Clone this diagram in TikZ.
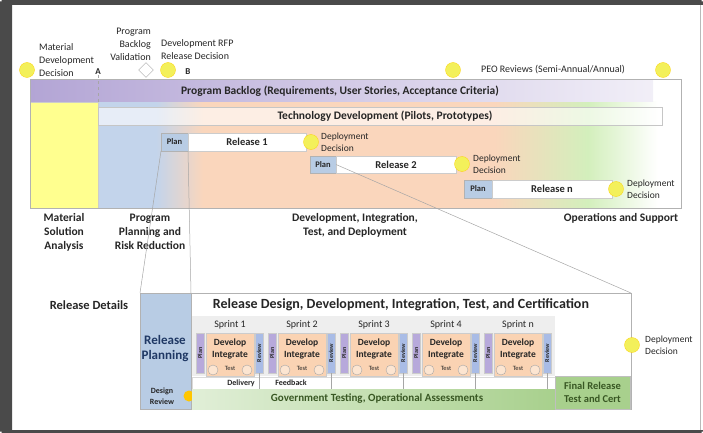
\documentclass[tikz,border=0pt]{standalone}
\usepackage{fontspec}
\setmainfont{Carlito}
\usetikzlibrary{positioning,shapes.geometric}
\definecolor{framegray}{HTML}{4A4A4A}
\definecolor{msyellow}{HTML}{F3F05A}
\definecolor{msayellow}{HTML}{FFFF8F}
\definecolor{planblue}{HTML}{B8CCE4}
\definecolor{backlogpurple}{HTML}{B3A5D5}
\definecolor{softblue}{HTML}{C3D4EB}
\definecolor{peach}{HTML}{FAD6BC}
\definecolor{softgreen}{HTML}{D3EFBC}
\definecolor{sprintorange}{HTML}{FAD3B3}
\definecolor{sprintpurple}{HTML}{B7A9DB}
\definecolor{sprintblue}{HTML}{A9BCE6}
\definecolor{govgreen}{HTML}{A8D08D}
\definecolor{textdark}{HTML}{262626}
\definecolor{rpblue}{HTML}{1F3864}
\definecolor{darkgreen}{HTML}{385723}
\pgfdeclarehorizontalshading{phasebg}{100bp}{color(0bp)=(softblue); color(25bp)=(softblue); color(30bp)=(softblue); color(34bp)=(peach); color(59bp)=(peach); color(67bp)=(softgreen); color(73bp)=(white); color(100bp)=(white)}
\tikzset{
  milestone/.style={circle, fill=msyellow, draw=yellow!70!orange, line width=0.3pt, inner sep=0pt, minimum size=15pt},
  valdiamond/.style={diamond, fill=white, draw=gray!70, inner sep=0pt, minimum size=15pt},
  mslabel/.style={font=\bfseries\fontsize{9}{10}\selectfont, text=textdark, inner sep=0pt},
  smalltxt/.style={font=\fontsize{10}{13}\selectfont, text=textdark, inner sep=0pt},
  deploytxt/.style={font=\fontsize{9.5}{12}\selectfont, text=textdark, inner sep=0pt, align=left, anchor=west},
  box/.style={anchor=north west, inner sep=0pt, outer sep=0pt},
  bartitle/.style={font=\bfseries\fontsize{11.5}{13}\selectfont, text=textdark, inner sep=0pt},
  phase/.style={font=\bfseries\fontsize{11.5}{14}\selectfont, text=textdark, align=center, inner sep=0pt},
  planbox/.style={box, fill=planblue, draw=gray!60, font=\bfseries\fontsize{8.5}{9}\selectfont, text=textdark},
  relbox/.style={box, fill=white, draw=gray!40, font=\bfseries\fontsize{10.5}{11}\selectfont, text=textdark},
  sprinthead/.style={font=\fontsize{10}{11}\selectfont, text=textdark, inner sep=0pt},
  sprintbar/.style={box, minimum width=8pt, minimum height=40pt, draw=gray!40, font=\bfseries\fontsize{6}{6}\selectfont, text=textdark},
  sprintbox/.style={box, minimum width=48pt, minimum height=43pt, fill=sprintorange, draw=gray!40},
  develop/.style={font=\bfseries\fontsize{9.5}{12}\selectfont, text=textdark, align=center, inner sep=0pt},
  cycicon/.style={circle, draw=gray!70, fill=sprintorange!60!white, inner sep=0pt, minimum size=10pt},
  testtxt/.style={font=\fontsize{6.5}{7}\selectfont, text=textdark, inner sep=0pt},
  zoomline/.style={draw=gray!70, line width=0.5pt},
}

\begin{document}
\begin{tikzpicture}[x=1pt,y=-1pt]
% frame
\fill[framegray, even odd rule] (0,0) rectangle (703,433) (12,5) rectangle (703,430);
\fill[white] (0,0) rectangle (1.5,1.5) (701.5,0) rectangle (703,1.5) (0,431.5) rectangle (1.5,433) (701.5,431.5) rectangle (703,433);
\draw[gray!55] (700,5) -- (700,430);
\useasboundingbox (0,0) rectangle (703,433);

% milestones along the top
\node[milestone] (mdd) at (27,70) {};
\node[smalltxt, align=left, anchor=west] (mddtxt) at (39,60) {Material\\Development\\Decision};
\node[mslabel] (msA) at (98,72) {A};
\node[smalltxt, align=right, anchor=east] (pbvtxt) at (151,44) {Program\\Backlog\\Validation};
\node[valdiamond] (pbv) at (146,70) {};
\node[milestone] (rfp) at (168,70) {};
\node[smalltxt, align=left, anchor=west] (rfptxt) at (161,50) {Development RFP\\Release Decision};
\node[mslabel] (msB) at (188,72) {B};
\node[milestone] (peo1) at (453,70) {};
\node[smalltxt, anchor=west] (peotxt) at (481,70) {PEO Reviews (Semi-Annual/Annual)};
\node[milestone] (peo2) at (663,70) {};

% phases
\shade[shading=phasebg] (98,102) rectangle (681,208);
\node[box, fill=msayellow, draw=gray!40, minimum width=68pt, minimum height=106pt] (msabox) at (30,102) {};
\node[box, left color=backlogpurple, right color=backlogpurple!18, minimum width=623pt, minimum height=22pt] (backlog) at (30,80) {};
\node[bartitle] (backlogtxt) at (340,91) {Program Backlog (Requirements, User Stories, Acceptance Criteria)};
\node[box, fill=white, fill opacity=0.6, draw=gray!45, minimum width=564pt, minimum height=18pt] (techdev) at (98,107) {};
\node[bartitle] (techdevtxt) at (385,116) {Technology Development (Pilots, Prototypes)};
\node[box, draw=gray!60, minimum width=651pt, minimum height=129pt] (main) at (30,79) {};
\draw[dashed, gray!70] (msA.south) -- (msabox.north east);

% releases
\node[planbox, minimum width=27pt, minimum height=18pt] (plan1) at (161,133) {Plan};
\node[relbox, minimum width=118pt, minimum height=18pt, anchor=west] (rel1) at (plan1.east) {Release 1};
\node[milestone] (dep1) at (311,142) {};
\node[deploytxt] (dep1txt) at (321,142) {Deployment\\Decision};
\node[planbox, minimum width=26pt, minimum height=17pt] (plan2) at (310,156) {Plan};
\node[relbox, minimum width=120pt, minimum height=17pt, anchor=west] (rel2) at (plan2.east) {Release 2};
\node[milestone] (dep2) at (462,164) {};
\node[deploytxt] (dep2txt) at (473,164) {Deployment\\Decision};
\node[planbox, minimum width=28pt, minimum height=18pt] (plan3) at (464,180) {Plan};
\node[relbox, minimum width=120pt, minimum height=18pt, anchor=west] (reln) at (plan3.east) {Release n};
\node[milestone] (depn) at (616,189) {};
\node[deploytxt] (depntxt) at (627,189) {Deployment\\Decision};

\node[phase] (msa) at (64,232) {Material\\Solution\\Analysis};
\node[phase] (pprr) at (150,232) {Program\\Planning and\\Risk Reduction};
\node[phase] (ditd) at (355,225) {Development, Integration,\\Test, and Deployment};
\node[phase] (ops) at (621,218) {Operations and Support};

% release details
\node[font=\bfseries\fontsize{12.5}{14}\selectfont, text=textdark, inner sep=0pt] (reldet) at (89,305) {Release Details};
\node[box, fill=planblue, draw=gray!60, minimum width=51pt, minimum height=116pt] (rp) at (140,293) {};
\node[font=\bfseries\fontsize{13}{15}\selectfont, text=rpblue, align=center, inner sep=0pt] (rptxt) at (165,349) {Release\\Planning};
\node[font=\bfseries\fontsize{8}{11}\selectfont, text=textdark, align=center, inner sep=0pt] (drtxt) at (162,396) {Design\\Review};
\node[box, fill=white, draw=gray!60, minimum width=440pt, minimum height=116pt] (lowbox) at (191,293) {};
\node[font=\bfseries\fontsize{14}{15}\selectfont, text=textdark, inner sep=0pt] (rdtxt) at (401,305) {Release Design, Development, Integration, Test, and Certification};
\node[box, fill=gray!13, minimum width=363pt, minimum height=60pt] (band) at (192,316) {};
\node[circle, fill=orange!45!yellow, inner sep=0pt, minimum size=11pt] (dr) at (189,396) {};

\node[sprinthead] (sh1) at (230,325) {Sprint 1};
\node[sprintbar, fill=sprintpurple] (s1p) at (196,333) {\rotatebox{90}{Plan}};
\node[sprintbox] (s1) at (206,333) {};
\node[develop] (s1t) at (230,349) {Develop\\Integrate};
\node[cycicon] (s1a) at (213,370) {}; \node[cycicon] (s1b) at (247,370) {}; \node[testtxt] (s1x) at (230,368) {Test};
\node[sprintbar, fill=sprintblue] (s1r) at (255,333) {\rotatebox{90}{Review}};

\node[sprinthead] (sh2) at (302,325) {Sprint 2};
\node[sprintbar, fill=sprintpurple] (s2p) at (268,333) {\rotatebox{90}{Plan}};
\node[sprintbox] (s2) at (278,333) {};
\node[develop] (s2t) at (302,349) {Develop\\Integrate};
\node[cycicon] (s2a) at (285,370) {}; \node[cycicon] (s2b) at (319,370) {}; \node[testtxt] (s2x) at (302,368) {Test};
\node[sprintbar, fill=sprintblue] (s2r) at (327,333) {\rotatebox{90}{Review}};

\node[sprinthead] (sh3) at (374,325) {Sprint 3};
\node[sprintbar, fill=sprintpurple] (s3p) at (340,333) {\rotatebox{90}{Plan}};
\node[sprintbox] (s3) at (350,333) {};
\node[develop] (s3t) at (374,349) {Develop\\Integrate};
\node[cycicon] (s3a) at (357,370) {}; \node[cycicon] (s3b) at (391,370) {}; \node[testtxt] (s3x) at (374,368) {Test};
\node[sprintbar, fill=sprintblue] (s3r) at (399,333) {\rotatebox{90}{Review}};

\node[sprinthead] (sh4) at (446,325) {Sprint 4};
\node[sprintbar, fill=sprintpurple] (s4p) at (412,333) {\rotatebox{90}{Plan}};
\node[sprintbox] (s4) at (422,333) {};
\node[develop] (s4t) at (446,349) {Develop\\Integrate};
\node[cycicon] (s4a) at (429,370) {}; \node[cycicon] (s4b) at (463,370) {}; \node[testtxt] (s4x) at (446,368) {Test};
\node[sprintbar, fill=sprintblue] (s4r) at (471,333) {\rotatebox{90}{Review}};

\node[sprinthead] (sh5) at (518,325) {Sprint n};
\node[sprintbar, fill=sprintpurple] (s5p) at (484,333) {\rotatebox{90}{Plan}};
\node[sprintbox] (s5) at (494,333) {};
\node[develop] (s5t) at (518,349) {Develop\\Integrate};
\node[cycicon] (s5a) at (501,370) {}; \node[cycicon] (s5b) at (535,370) {}; \node[testtxt] (s5x) at (518,368) {Test};
\node[sprintbar, fill=sprintblue] (s5r) at (543,333) {\rotatebox{90}{Review}};

\node[box, fill=white, draw=gray!30, minimum width=363pt, minimum height=12pt] (fb) at (192,377) {};
\node[font=\bfseries\fontsize{8}{9}\selectfont, text=textdark, inner sep=0pt] (deliv) at (241,383) {Delivery};
\node[font=\bfseries\fontsize{8}{9}\selectfont, text=textdark, inner sep=0pt] (feedb) at (291,383) {Feedback};
\draw[gray!70] (s1r.south) -- ++(0,16);
\draw[gray!70] (s2r.south) -- ++(0,16);
\draw[gray!70] (s3r.south) -- ++(0,16);
\draw[gray!70] (s4r.south) -- ++(0,16);
\draw[gray!70] (s5r.south) -- ++(0,16);
\node[box, left color=govgreen!35, right color=govgreen, minimum width=363pt, minimum height=20pt] (gov) at (192,389) {};
\node[font=\bfseries\fontsize{11}{12}\selectfont, text=darkgreen, inner sep=0pt] (govtxt) at (377,399) {Government Testing, Operational Assessments};
\node[box, fill=govgreen, draw=gray!50, minimum width=75pt, minimum height=33pt, font=\bfseries\fontsize{10.5}{13}\selectfont, text=darkgreen, align=center] (final) at (555,376) {Final Release\\Test and Cert};
\node[milestone] (deplow) at (632,345) {};
\node[deploytxt] (deplowtxt) at (645,345) {Deployment\\Decision};

% zoom lines
\draw[zoomline] (plan1.south west) -- (rp.north west);
\draw[zoomline] (plan1.south east) -- (rp.north east);
\draw[zoomline] (rel2.west) -- (lowbox.north east);
\end{tikzpicture}
\end{document}
